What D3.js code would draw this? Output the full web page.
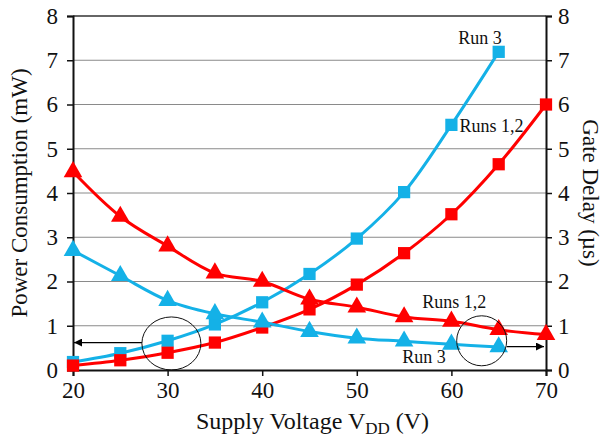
<!DOCTYPE html>
<html>
<head>
<meta charset="utf-8">
<script src="https://cdn.jsdelivr.net/npm/d3@7"></script>
<style>
  body { margin: 0; background: #fff; }
</style>
</head>
<body>
<div id="chart"></div>
<script>
// Supply voltage (V)
const voltage = [20, 25, 30, 35, 40, 45, 50, 55, 60, 65, 70];
const voltageRun3 = [20, 25, 30, 35, 40, 45, 50, 55, 60, 65];

// Power consumption (mW), squares, left axis
const powerRuns12 = [0.1, 0.22, 0.39, 0.62, 0.96, 1.37, 1.93, 2.64, 3.52, 4.65, 6.0];
const powerRun3 = [0.18, 0.38, 0.66, 1.03, 1.53, 2.17, 2.97, 4.02, 5.54, 7.19];

// Gate delay (µs), triangles, right axis
const delayRuns12 = [4.48, 3.47, 2.8, 2.19, 2.0, 1.6, 1.42, 1.2, 1.1, 0.91, 0.8];
const delayRun3 = [2.7, 2.13, 1.57, 1.27, 1.08, 0.87, 0.72, 0.65, 0.58, 0.52];

const xTicks = [20, 30, 40, 50, 60, 70];
const yTicks = [0, 1, 2, 3, 4, 5, 6, 7, 8];

const width = 603, height = 438;
const margin = {top: 16, right: 57, bottom: 68, left: 73};

const red = "#ff0000", blue = "#14b1e7";
const font = "'Liberation Serif', 'DejaVu Serif', 'Times New Roman', serif";

const svg = d3.select("#chart").append("svg")
    .attr("width", width)
    .attr("height", height)
    .attr("font-family", font);

const x = d3.scaleLinear().domain([20, 70]).range([margin.left, width - margin.right]);
const yL = d3.scaleLinear().domain([0, 8]).range([height - margin.bottom, margin.top]);
const yR = d3.scaleLinear().domain([0, 8]).range([height - margin.bottom, margin.top]);

// gridlines
svg.append("g")
  .selectAll("line")
  .data(yTicks.slice(1, -1))
  .enter().append("line")
    .attr("x1", x(20)).attr("x2", x(70))
    .attr("y1", d => yL(d)).attr("y2", d => yL(d))
    .attr("stroke", "#8a8a8a")
    .attr("stroke-width", 1);

// top border
svg.append("line")
    .attr("x1", x(20)).attr("x2", x(70))
    .attr("y1", yL(8)).attr("y2", yL(8))
    .attr("stroke", "#333").attr("stroke-width", 1.5);

// axes
const fs = "23px";
const xAxis = svg.append("g")
    .attr("transform", `translate(0,${yL(0)})`)
    .call(d3.axisBottom(x).tickValues(xTicks).tickSize(6).tickPadding(6));
const yAxisL = svg.append("g")
    .attr("transform", `translate(${x(20)},0)`)
    .call(d3.axisLeft(yL).tickValues(yTicks).tickSize(6).tickPadding(9));
const yAxisR = svg.append("g")
    .attr("transform", `translate(${x(70)},0)`)
    .call(d3.axisRight(yR).tickValues(yTicks).tickSize(6).tickPadding(6));

[xAxis, yAxisL, yAxisR].forEach(a => {
  a.attr("font-family", font);
  a.selectAll("text").style("font-size", fs).style("font-family", font).attr("fill", "#111");
  a.selectAll("line").attr("stroke", "#111").attr("stroke-width", 1.5);
  a.select(".domain").attr("stroke", "#111").attr("stroke-width", 2);
});

// series lines
const series = [
  {xs: voltageRun3, ys: powerRun3, y: yL, color: blue, shape: d3.symbolSquare},
  {xs: voltage, ys: powerRuns12, y: yL, color: red, shape: d3.symbolSquare},
  {xs: voltageRun3, ys: delayRun3, y: yR, color: blue, shape: d3.symbolTriangle},
  {xs: voltage, ys: delayRuns12, y: yR, color: red, shape: d3.symbolTriangle}
];

series.forEach(s => {
  const pts = s.xs.map((v, i) => [v, s.ys[i]]);
  const line = d3.line()
      .x(d => x(d[0]))
      .y(d => s.y(d[1]))
      .curve(d3.curveCatmullRom.alpha(0.5));
  svg.append("path")
      .datum(pts)
      .attr("d", line)
      .attr("fill", "none")
      .attr("stroke", s.color)
      .attr("stroke-width", 3);
  svg.append("g")
    .selectAll("path")
    .data(pts)
    .enter().append("path")
      .attr("d", d3.symbol().type(s.shape).size(150))
      .attr("transform", d => `translate(${x(d[0])},${s.y(d[1])})`)
      .attr("fill", s.color);
});

// annotations: circles and arrows
const defs = svg.append("defs");
defs.append("marker")
    .attr("id", "arrow")
    .attr("viewBox", "0 0 10 10")
    .attr("refX", 10).attr("refY", 5)
    .attr("markerWidth", 9).attr("markerHeight", 8)
    .attr("markerUnits", "userSpaceOnUse")
    .attr("orient", "auto")
  .append("path")
    .attr("d", "M0,0L10,5L0,10Z")
    .attr("fill", "#000");

svg.append("ellipse")
    .attr("cx", x(30.4)).attr("cy", yL(0.6))
    .attr("rx", 29.5).attr("ry", 26.5)
    .attr("fill", "none").attr("stroke", "#111").attr("stroke-width", 1);
svg.append("line")
    .attr("x1", x(30.4) - 29.5).attr("x2", x(20) + 1)
    .attr("y1", yL(0.62)).attr("y2", yL(0.62))
    .attr("stroke", "#000").attr("stroke-width", 1.3)
    .attr("marker-end", "url(#arrow)");

svg.append("ellipse")
    .attr("cx", x(63.2)).attr("cy", yR(0.66))
    .attr("rx", 25).attr("ry", 25)
    .attr("fill", "none").attr("stroke", "#111").attr("stroke-width", 1);
svg.append("line")
    .attr("x1", x(63.2) + 25).attr("x2", x(70) - 2)
    .attr("y1", yR(0.53)).attr("y2", yR(0.53))
    .attr("stroke", "#000").attr("stroke-width", 1.3)
    .attr("marker-end", "url(#arrow)");

// series labels
const labels = [
  {text: "Run 3", x: 65, y: 7.2, dx: 3, dy: -7, anchor: "end"},
  {text: "Runs 1,2", x: 60, y: 5.54, dx: 8, dy: 7, anchor: "start"},
  {text: "Runs 1,2", x: 60.3, y: 1.4, dx: 0, dy: 0, anchor: "middle"},
  {text: "Run 3", x: 57.1, y: 0.16, dx: 0, dy: 0, anchor: "middle"}
];
svg.append("g")
  .selectAll("text")
  .data(labels)
  .enter().append("text")
    .attr("x", d => x(d.x) + d.dx)
    .attr("y", d => yL(d.y) + d.dy)
    .attr("text-anchor", d => d.anchor)
    .style("font-size", "18px")
    .style("font-family", font)
    .attr("fill", "#111")
    .text(d => d.text);

// axis titles
svg.append("text")
    .attr("transform", `translate(27,${yL(4)}) rotate(-90)`)
    .attr("text-anchor", "middle")
    .style("font-size", fs)
    .style("font-family", font)
    .attr("fill", "#111")
    .text("Power Consumption (mW)");

svg.append("text")
    .attr("transform", `translate(583,${yR(4)}) rotate(90)`)
    .attr("text-anchor", "middle")
    .style("font-size", fs)
    .style("font-family", font)
    .attr("fill", "#111")
    .text("Gate Delay (µs)");

const xt = svg.append("text")
    .attr("x", x(45) + 3)
    .attr("y", 429)
    .attr("text-anchor", "middle")
    .style("font-size", "24px")
    .style("font-family", font)
    .attr("fill", "#111");
xt.append("tspan").text("Supply Voltage V");
xt.append("tspan").attr("dy", 5).style("font-size", "17px").text("DD");
xt.append("tspan").attr("dy", -5).text(" (V)");
</script>
</body>
</html>
